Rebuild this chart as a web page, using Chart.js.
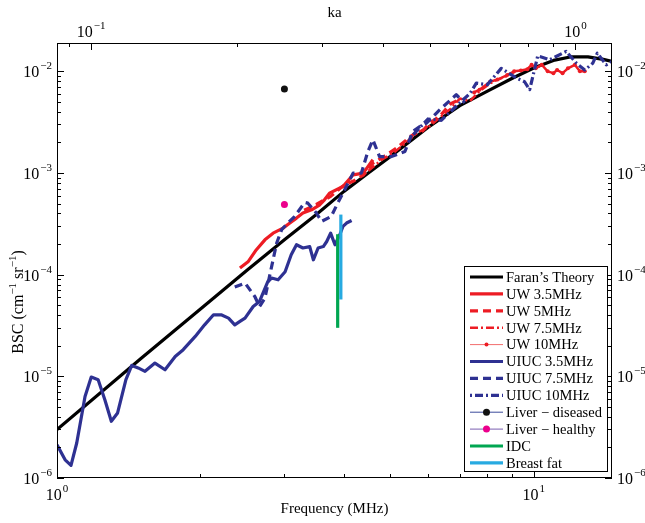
<!DOCTYPE html>
<html>
<head>
<meta charset="utf-8">
<script src="https://cdn.jsdelivr.net/npm/chart.js@4.4.0/dist/chart.umd.min.js"></script>
<style>
  body { margin: 0; background: #fff; }
  canvas { display: block; }
</style>
</head>
<body>
<canvas id="bscChart" width="645" height="523"></canvas>
<script>
/* Data (frequency in MHz, BSC in 1/(cm sr)) */
const faranFreq = [1, 1.5, 2, 2.5, 3, 3.5, 4, 4.5, 5, 6, 7, 8, 9, 10, 11, 12, 13, 14, 14.6];
const faranBsc = [3.0e-6, 1.5e-5, 4.6e-5, 1.1e-4, 2.2e-4, 3.9e-4, 6.6e-4, 1.0e-3, 1.45e-3, 2.8e-3, 4.6e-3, 6.4e-3, 8.5e-3, 1.08e-2, 1.28e-2, 1.39e-2, 1.39e-2, 1.31e-2, 1.25e-2];

const uw35Freq = [2.42, 2.52, 2.62, 2.73, 2.84, 2.98, 3.08, 3.18, 3.28, 3.42, 3.56, 3.64, 3.73, 3.98, 4.18, 4.39, 4.6];
const uw35Bsc = [1.16e-4, 1.35e-4, 1.76e-4, 2.2e-4, 2.56e-4, 2.87e-4, 3.22e-4, 3.6e-4, 4.04e-4, 4.35e-4, 4.87e-4, 5.45e-4, 6.34e-4, 7.36e-4, 9.6e-4, 9.98e-4, 1.35e-3];

const uw5Freq = [3.3, 3.5, 3.75, 4.0, 4.2, 4.4, 4.6, 4.85, 5.15, 5.4, 5.6, 5.85, 6.05, 6.35, 6.7, 7.0];
const uw5Bsc = [4.3e-4, 4.9e-4, 5.9e-4, 7.6e-4, 8.4e-4, 9.6e-4, 1.25e-3, 1.45e-3, 1.75e-3, 2.1e-3, 2.4e-3, 2.6e-3, 3.1e-3, 3.6e-3, 4.8e-3, 5.3e-3];

const uw75Freq = [4.5, 4.8, 5.1, 5.4, 5.7, 6.0, 6.3, 6.7, 7.0, 7.35, 7.7, 8.1, 8.4, 8.8, 9.1];
const uw75Bsc = [1.05e-3, 1.35e-3, 1.6e-3, 2.0e-3, 2.5e-3, 2.8e-3, 3.4e-3, 4.3e-3, 5.4e-3, 5.1e-3, 6.4e-3, 7.6e-3, 8.3e-3, 9.0e-3, 9.8e-3];

const uw10Freq = [7.5, 7.7, 8.1, 8.4, 8.8, 9.1, 9.4, 9.7, 9.9, 10.1, 10.4, 10.7, 11.0, 11.2, 11.5, 11.8, 12.2, 12.5, 12.8];
const uw10Bsc = [6.2e-3, 6.6e-3, 7.9e-3, 8.3e-3, 9.2e-3, 1.0e-2, 1.02e-2, 1.05e-2, 1.16e-2, 1.07e-2, 1.16e-2, 1.0e-2, 9.6e-3, 1.03e-2, 9.6e-3, 1.07e-2, 1.16e-2, 1.0e-2, 1.0e-2];

const uiuc35Freq = [1.00, 1.04, 1.07, 1.10, 1.145, 1.18, 1.22, 1.26, 1.30, 1.34, 1.395, 1.435, 1.48, 1.53, 1.605, 1.685, 1.77, 1.84, 1.95, 2.04, 2.13, 2.21, 2.29, 2.36, 2.42, 2.48, 2.58, 2.66, 2.77, 2.82, 2.91, 3.01, 3.10, 3.18, 3.28, 3.39, 3.45, 3.53, 3.62, 3.68, 3.75, 3.83, 3.92, 3.98, 4.05, 4.15];
const uiuc35Bsc = [2.12e-6, 1.51e-6, 1.33e-6, 2.21e-6, 6.34e-6, 9.84e-6, 9.27e-6, 5.89e-6, 3.61e-6, 4.36e-6, 9.27e-6, 1.28e-5, 1.21e-5, 1.12e-5, 1.35e-5, 1.16e-5, 1.57e-5, 1.83e-5, 2.47e-5, 3.21e-5, 4.03e-5, 4.03e-5, 3.74e-5, 3.21e-5, 3.47e-5, 3.74e-5, 4.86e-5, 5.45e-5, 8.57e-5, 9.27e-5, 8.91e-5, 1.07e-4, 1.57e-4, 1.97e-4, 1.83e-4, 1.89e-4, 1.40e-4, 1.83e-4, 1.89e-4, 2.12e-4, 2.56e-4, 1.97e-4, 2.47e-4, 2.98e-4, 3.22e-4, 3.41e-4];

const uiuc75Freq = [2.36, 2.48, 2.60, 2.66, 2.73, 2.82, 2.89, 2.96, 3.05, 3.15, 3.31, 3.36, 3.50, 3.59, 3.76, 3.88, 3.98, 4.08, 4.18, 4.35, 4.49, 4.60, 4.75, 5.03, 5.37, 5.58, 5.77, 5.96, 6.35, 6.88, 7.17];
const uiuc75Bsc = [7.55e-5, 8.27e-5, 6.1e-5, 4.86e-5, 5.88e-5, 1.2e-4, 2.05e-4, 2.77e-4, 3.22e-4, 3.73e-4, 5.13e-4, 5.05e-4, 4.04e-4, 3.34e-4, 3.73e-4, 5.05e-4, 6.34e-4, 7.96e-4, 9.98e-4, 9.98e-4, 1.63e-3, 2.12e-3, 1.45e-3, 1.45e-3, 1.63e-3, 2.56e-3, 2.87e-3, 3.1e-3, 4.18e-3, 5.88e-3, 4.9e-3];

const uiuc10Freq = [5.5, 6.0, 6.4, 6.9, 7.36, 7.58, 8.0, 8.55, 9.2, 9.57, 9.81, 10.2, 10.8, 11.7, 12.3, 12.8, 13.3, 13.6, 14.2, 14.6];
const uiuc10Bsc = [2.2e-3, 3.4e-3, 3.3e-3, 4.6e-3, 6.1e-3, 7.65e-3, 7.4e-3, 1.07e-2, 8.6e-3, 7.9e-3, 6.6e-3, 1.42e-2, 1.3e-2, 1.57e-2, 1.2e-2, 1.03e-2, 1.2e-2, 1.51e-2, 1.16e-2, 1.25e-2];

const liverDiseasedFreq = [3.0];
const liverDiseasedBsc = [6.7e-3];
const liverHealthyFreq = [3.0];
const liverHealthyBsc = [4.9e-4];

const idcFreq = [3.88, 3.88];
const idcBsc = [3.0e-5, 2.5e-4];
const fatFreq = [3.94, 3.94];
const fatBsc = [5.7e-5, 3.9e-4];

// axis ranges
const freqMin = 1, freqMax = 14.6;
const kaMin = 0.085, kaMax = 1.19;
const bscMin = 1e-6, bscMax = 1.9e-2;

const RED = '#ed1c24', NAVY = '#2e3192', GREEN = '#00a651', CYAN = '#27aae1', MAGENTA = '#ec008c';
const FONT = '"Liberation Serif", "Times New Roman", serif';

function pts(xs, ys) {
    return xs.map((x, i) => ({ x: x, y: ys[i] }));
}

function line(label, xs, ys, color, width, dash, extra) {
    return Object.assign({
        label: label,
        data: pts(xs, ys),
        borderColor: color,
        backgroundColor: color,
        borderWidth: width,
        borderDash: dash || [],
        pointRadius: 0,
        tension: 0,
        fill: false
    }, extra || {});
}

const datasets = [
    line('Faran\u2019s Theory', faranFreq, faranBsc, '#000', 3.2),
    line('UW 3.5MHz', uw35Freq, uw35Bsc, RED, 3.2),
    line('UW 5MHz', uw5Freq, uw5Bsc, RED, 3.2, [8, 5]),
    line('UW 7.5MHz', uw75Freq, uw75Bsc, RED, 2.5, [8, 3, 2, 3]),
    line('UW 10MHz', uw10Freq, uw10Bsc, RED, 2.5, [], { pointRadius: 2, pointBackgroundColor: RED, pointBorderColor: RED, pointBorderWidth: 0, legendColor: '#f26d6d' }),
    line('UIUC 3.5MHz', uiuc35Freq, uiuc35Bsc, NAVY, 3.2),
    line('UIUC 7.5MHz', uiuc75Freq, uiuc75Bsc, NAVY, 3.2, [8, 5]),
    line('UIUC 10MHz', uiuc10Freq, uiuc10Bsc, NAVY, 3.2, [2, 3, 8, 3]),
    line('Liver \u2212 diseased', liverDiseasedFreq, liverDiseasedBsc, '#3b4a9c', 1, [], { pointRadius: 3.5, pointBackgroundColor: '#111', pointBorderColor: '#111', pointBorderWidth: 0 }),
    line('Liver \u2212 healthy', liverHealthyFreq, liverHealthyBsc, '#7b5fb0', 1, [], { pointRadius: 3.5, pointBackgroundColor: MAGENTA, pointBorderColor: MAGENTA, pointBorderWidth: 0 }),
    line('IDC', idcFreq, idcBsc, GREEN, 3.2),
    line('Breast fat', fatFreq, fatBsc, CYAN, 3.2)
];
// later series drawn on top, as in the original figure
datasets.forEach((d, i) => d.order = -i);

function logTicks(min, max) {
    const out = [];
    for (let d = Math.floor(Math.log10(min)); d <= Math.ceil(Math.log10(max)); d++) {
        for (let m = 1; m <= 9; m++) {
            const v = m * Math.pow(10, d);
            if (v >= min * 0.999 && v <= max * 1.001) out.push({ v: v, major: m === 1, exp: d });
        }
    }
    return out;
}

function drawPow(ctx, exp, x, y, align) {
    const sup = String(exp).replace('-', '\u2212');
    ctx.font = '16px ' + FONT;
    const wb = ctx.measureText('10').width;
    ctx.font = '11px ' + FONT;
    const ws = ctx.measureText(sup).width;
    const w = wb + 1 + ws;
    const x0 = align === 'center' ? x - w / 2 : (align === 'right' ? x - w : x);
    ctx.textAlign = 'left';
    ctx.textBaseline = 'alphabetic';
    ctx.font = '16px ' + FONT;
    ctx.fillText('10', x0, y);
    ctx.font = '11px ' + FONT;
    ctx.fillText(sup, x0 + wb + 1, y - 8);
}

// MATLAB style frame, inward ticks, labels and legend
const matlabAxes = {
    id: 'matlabAxes',
    afterDraw(chart) {
        const ctx = chart.ctx, a = chart.chartArea;
        const xs = chart.scales.x, xt = chart.scales.xTop, ys = chart.scales.y;
        ctx.save();
        ctx.setLineDash([]);
        ctx.strokeStyle = '#000';
        ctx.fillStyle = '#000';
        ctx.lineWidth = 1;
        ctx.strokeRect(a.left + 0.5, a.top + 0.5, a.right - a.left - 1, a.bottom - a.top - 1);

        ctx.beginPath();
        logTicks(freqMin, freqMax).forEach(t => {
            const px = Math.round(xs.getPixelForValue(t.v)) + 0.5;
            const len = t.major ? 7 : 4;
            ctx.moveTo(px, a.bottom); ctx.lineTo(px, a.bottom - len);
        });
        logTicks(kaMin, kaMax).forEach(t => {
            const px = Math.round(xt.getPixelForValue(t.v)) + 0.5;
            const len = t.major ? 7 : 4;
            ctx.moveTo(px, a.top); ctx.lineTo(px, a.top + len);
        });
        logTicks(bscMin, bscMax).forEach(t => {
            const py = Math.round(ys.getPixelForValue(t.v)) + 0.5;
            const len = t.major ? 7 : 4;
            ctx.moveTo(a.left, py); ctx.lineTo(a.left + len, py);
            ctx.moveTo(a.right, py); ctx.lineTo(a.right - len, py);
        });
        ctx.stroke();

        logTicks(freqMin, freqMax).filter(t => t.major).forEach(t => {
            drawPow(ctx, t.exp, xs.getPixelForValue(t.v), a.bottom + 22, 'center');
        });
        logTicks(kaMin, kaMax).filter(t => t.major).forEach(t => {
            drawPow(ctx, t.exp, xt.getPixelForValue(t.v), a.top - 6, 'center');
        });
        logTicks(bscMin, bscMax).filter(t => t.major).forEach(t => {
            const py = ys.getPixelForValue(t.v);
            drawPow(ctx, t.exp, a.left - 5, py + 6, 'right');
            drawPow(ctx, t.exp, a.right + 5, py + 6, 'left');
        });

        // axis titles
        ctx.font = '15px ' + FONT;
        ctx.textAlign = 'center';
        ctx.textBaseline = 'alphabetic';
        ctx.fillText('Frequency (MHz)', (a.left + a.right) / 2, a.bottom + 35);
        ctx.fillText('ka', (a.left + a.right) / 2, 17);

        ctx.save();
        ctx.translate(23, 302);
        ctx.rotate(-Math.PI / 2);
        const parts = [['BSC (cm', 16, 0], ['\u22121', 11, -7], [' sr', 16, 0], ['\u22121', 11, -7], [')', 16, 0]];
        let total = 0;
        parts.forEach(p => { ctx.font = p[1] + 'px ' + FONT; total += ctx.measureText(p[0]).width; });
        let cx = -total / 2;
        ctx.textAlign = 'left';
        parts.forEach(p => {
            ctx.font = p[1] + 'px ' + FONT;
            ctx.fillText(p[0], cx, p[2]);
            cx += ctx.measureText(p[0]).width;
        });
        ctx.restore();

        // legend
        const lx = 464, ly = 266, lw = 143, lh = 205;
        ctx.fillStyle = '#fff';
        ctx.fillRect(lx, ly, lw, lh);
        ctx.strokeStyle = '#000';
        ctx.lineWidth = 1;
        ctx.strokeRect(lx + 0.5, ly + 0.5, lw, lh);
        chart.data.datasets.forEach((d, i) => {
            const y = ly + 11 + i * 16.9;
            const marked = d.pointRadius > 0;
            ctx.save();
            ctx.strokeStyle = d.legendColor || d.borderColor;
            ctx.lineWidth = marked ? 1 : d.borderWidth;
            ctx.setLineDash(d.borderDash || []);
            ctx.beginPath();
            ctx.moveTo(lx + 6, y);
            ctx.lineTo(lx + 39, y);
            ctx.stroke();
            if (marked) {
                ctx.fillStyle = d.pointBackgroundColor;
                ctx.beginPath();
                ctx.arc(lx + 22.5, y, d.pointRadius, 0, Math.PI * 2);
                ctx.fill();
            }
            ctx.restore();
            ctx.fillStyle = '#000';
            ctx.font = '14.5px ' + FONT;
            ctx.textAlign = 'left';
            ctx.textBaseline = 'middle';
            ctx.fillText(d.label, lx + 42, y + 1);
        });
        ctx.restore();
    }
};

new Chart(document.getElementById('bscChart'), {
    type: 'line',
    data: { datasets: datasets },
    options: {
        responsive: false,
        animation: false,
        devicePixelRatio: 1,
        layout: { padding: { left: 57, right: 33, top: 43, bottom: 45 } },
        plugins: { legend: { display: false }, tooltip: { enabled: false } },
        elements: { line: { borderCapStyle: 'butt', borderJoinStyle: 'round' } },
        scales: {
            x: { type: 'logarithmic', position: 'bottom', min: freqMin, max: freqMax, display: false },
            xTop: { type: 'logarithmic', axis: 'x', position: 'top', min: kaMin, max: kaMax, display: false },
            y: { type: 'logarithmic', min: bscMin, max: bscMax, display: false }
        }
    },
    plugins: [matlabAxes]
});
</script>
</body>
</html>
